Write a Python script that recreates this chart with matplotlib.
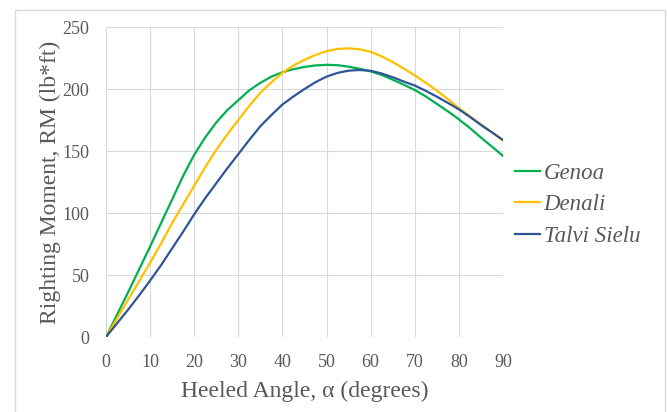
import matplotlib
matplotlib.use("Agg")
import matplotlib.pyplot as plt
from matplotlib.patches import Rectangle

# heeled angle (degrees)
angle = [0, 2.5, 5, 7.5, 10, 12.5, 15, 17.5, 20, 22.5, 25, 27.5, 30, 32.5, 35, 37.5,
         40, 42.5, 45, 47.5, 50, 52.5, 55, 57.5, 60, 62.5, 65, 67.5, 70, 72.5, 75,
         77.5, 80, 82.5, 85, 87.5, 90]

# righting moment (lb*ft)
genoa = [0, 18, 36, 54.5, 73, 92, 111, 130, 147, 161, 173, 183, 191, 199, 205, 210,
         213.5, 216, 217.8, 219, 219.5, 219.2, 218, 216.3, 214.2, 211.3, 207.5, 203.5,
         199.2, 194, 188, 182, 175.5, 168.5, 160.8, 153.5, 146]
denali = [0, 15, 30, 45, 60, 75.5, 92, 107, 122, 137, 151, 163.5, 175, 186.5, 197, 205.5,
          213, 219, 223.5, 227.5, 230.5, 232.3, 232.8, 232, 230, 226.3, 221.7, 216.5,
          211, 205, 198.7, 191.8, 184.5, 178, 171.5, 165, 158.3]
talvi = [0, 11, 22, 33.5, 45.5, 58, 71.5, 85, 99, 112, 124, 136, 147.5, 159, 170, 179,
         187.5, 194, 200, 205.5, 210, 213, 214.8, 215.3, 214.7, 212.5, 209.5, 206,
         202.8, 198.5, 193.8, 188.8, 183.6, 177.5, 171, 165, 158.9]

names = ["Genoa", "Denali", "Talvi Sielu"]
colors = ["#00B050", "#FFC000", "#2F5597"]

plt.rcParams['font.family'] = ['Liberation Serif', 'DejaVu Serif']
txt = "#595959"

fig = plt.figure(figsize=(6.68, 4.12), dpi=100)
# chart area border, bottom edge is cut off in the original
fig.patches.append(Rectangle((15 / 668, -0.05), 650 / 668, 1.05 - 10 / 412,
                             transform=fig.transFigure, fill=False,
                             edgecolor="#d9d9d9", linewidth=1))

ax = fig.add_axes([106 / 668, 1 - 337 / 412, 397 / 668, 310 / 412])

for ys, name, c in zip([genoa, denali, talvi], names, colors):
    ax.plot(angle, ys, color=c, linewidth=1.6, label=name)

ax.set_xlim(0, 90)
ax.set_ylim(0, 250)
ax.set_xticks(range(0, 91, 10))
ax.set_yticks(range(0, 251, 50))
ax.grid(True, color="#d9d9d9", linewidth=0.8)
ax.set_axisbelow(True)
for s in ax.spines.values():
    s.set_visible(False)
ax.tick_params(length=0, labelsize=13, labelcolor=txt)
ax.tick_params(axis="x", pad=12)
ax.tick_params(axis="y", pad=12)

ax.set_xlabel("Heeled Angle, \u03b1 (degrees)", fontsize=17, color=txt, labelpad=7)
ax.set_ylabel("Righting Moment, RM (lb*ft)", fontsize=17, color=txt, labelpad=1)

leg = fig.legend(loc="upper left", bbox_to_anchor=(515 / 668, 1 - 163 / 412),
                 bbox_transform=fig.transFigure, frameon=False,
                 prop={"style": "italic", "size": 16.5}, handlelength=1.1,
                 handletextpad=0.15, labelspacing=0.45, borderaxespad=0, borderpad=0)
for t in leg.get_texts():
    t.set_color(txt)

fig.savefig("out.png", dpi=100)
